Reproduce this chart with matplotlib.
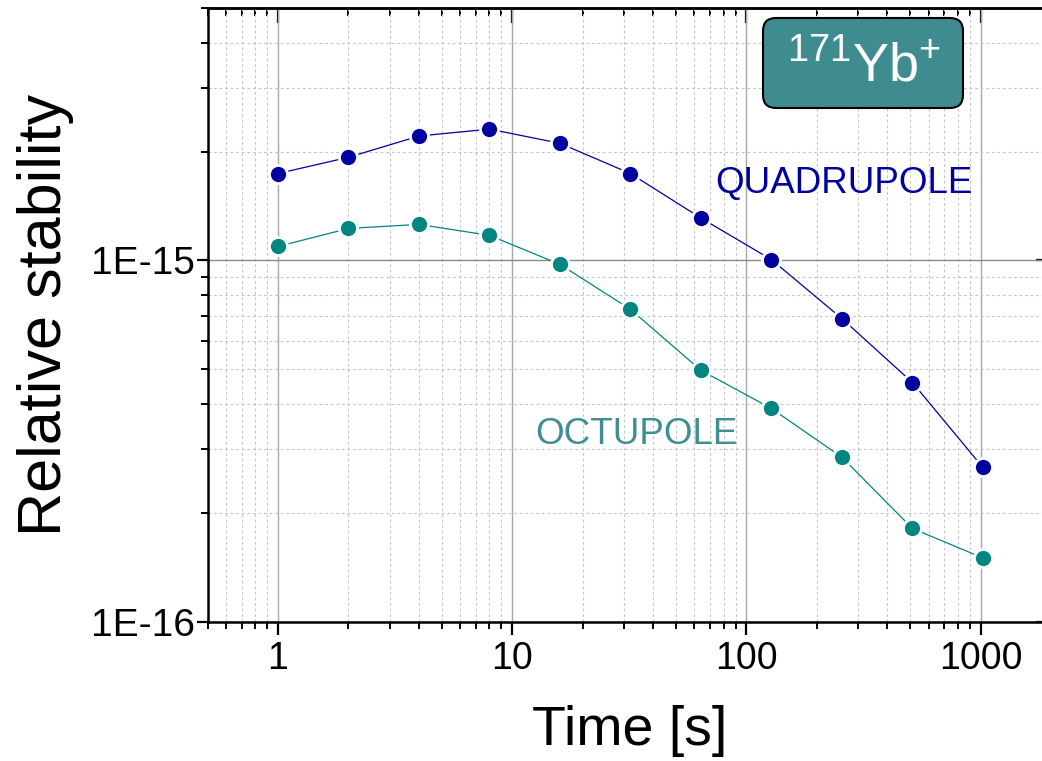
import matplotlib
matplotlib.use("Agg")
import matplotlib.pyplot as plt
from matplotlib.ticker import LogLocator, FixedLocator, FuncFormatter, NullFormatter
from matplotlib.patches import FancyBboxPatch

plt.rcParams['font.family'] = ['Liberation Sans', 'DejaVu Sans']
plt.rcParams['mathtext.fontset'] = 'custom'
plt.rcParams['mathtext.rm'] = 'Liberation Sans'

# Averaging time (s) and relative Allan deviation for the two Yb+ transitions
time_s = [1, 2, 4, 8, 16, 32, 64, 128, 256, 512, 1024]
quadrupole = [1.74e-15, 1.93e-15, 2.21e-15, 2.31e-15, 2.11e-15, 1.74e-15,
              1.31e-15, 1.005e-15, 6.9e-16, 4.59e-16, 2.67e-16]
octupole = [1.093e-15, 1.226e-15, 1.258e-15, 1.173e-15, 9.75e-16, 7.32e-16,
            4.96e-16, 3.89e-16, 2.85e-16, 1.81e-16, 1.50e-16]

x_ticks = [1, 10, 100, 1000]
x_tick_labels = ["1", "10", "100", "1000"]
y_ticks = [1e-16, 1e-15]
y_tick_labels = ["1E-16", "1E-15"]

quad_color = '#0000A0'
oct_color = '#008580'
label_oct_color = '#3E8E92'
box_color = '#3E8C90'

fig = plt.figure(figsize=(10.42, 7.61), dpi=100)
W, H = 1042, 761
ax = fig.add_axes([207.5 / W, 1 - 621.5 / H, (1051 - 207.5) / W, (621.5 - 8) / H])
ax.set_xscale('log')
ax.set_yscale('log')
ax.set_xlim(0.5, 2000)
ax.set_ylim(1e-16, 5e-15)

# ticks and grid
ax.xaxis.set_minor_locator(LogLocator(base=10, subs=range(2, 10), numticks=20))
ax.yaxis.set_minor_locator(LogLocator(base=10, subs=range(2, 10), numticks=20))
ax.xaxis.set_major_locator(FixedLocator(x_ticks))
ax.yaxis.set_major_locator(FixedLocator(y_ticks))
ax.xaxis.set_major_formatter(FuncFormatter(lambda v, p: x_tick_labels[x_ticks.index(v)] if v in x_ticks else ""))
ax.yaxis.set_major_formatter(FuncFormatter(lambda v, p: y_tick_labels[y_ticks.index(v)] if v in y_ticks else ""))
ax.xaxis.set_minor_formatter(NullFormatter())
ax.yaxis.set_minor_formatter(NullFormatter())

ax.grid(which='minor', color='#c4c4c4', linestyle=(0, (2.5, 2.5)), linewidth=0.8)
ax.grid(which='major', axis='x', color='#a8a8a8', linestyle='-', linewidth=1.0)
ax.grid(which='major', axis='y', color='#8a8a8a', linestyle='-', linewidth=1.0)
ax.set_axisbelow(True)

for side in ['left', 'bottom', 'top', 'right']:
    ax.spines[side].set_linewidth(1.8)

ax.tick_params(axis='x', which='major', direction='out', length=9, width=1.6,
               labelsize=27, pad=5, top=False)
ax.tick_params(axis='x', which='minor', direction='out', length=5, width=1.4, top=False)
ax.tick_params(axis='y', which='major', direction='out', length=8, width=1.6,
               labelsize=28, pad=1, right=False)
ax.tick_params(axis='y', which='minor', direction='out', length=5, width=1.4, right=False)

# mirrored ticks pointing inward on top and right
sec_x = ax.secondary_xaxis('top')
sec_x.xaxis.set_major_locator(FixedLocator(x_ticks))
sec_x.xaxis.set_minor_locator(LogLocator(base=10, subs=range(2, 10), numticks=20))
sec_x.xaxis.set_major_formatter(NullFormatter())
sec_x.xaxis.set_minor_formatter(NullFormatter())
sec_x.tick_params(which='major', direction='in', length=11, width=1.6)
sec_x.tick_params(which='minor', direction='in', length=6, width=1.4)
sec_x.spines['top'].set_linewidth(1.8)

sec_y = ax.secondary_yaxis('right')
sec_y.yaxis.set_major_locator(FixedLocator(y_ticks))
sec_y.yaxis.set_minor_locator(LogLocator(base=10, subs=range(2, 10), numticks=20))
sec_y.yaxis.set_major_formatter(NullFormatter())
sec_y.yaxis.set_minor_formatter(NullFormatter())
sec_y.tick_params(which='major', direction='in', length=11, width=1.6)
sec_y.tick_params(which='minor', direction='in', length=6, width=1.4)

ax.plot(time_s, quadrupole, '-o', color=quad_color, linewidth=0.9, markersize=13,
        markerfacecolor=quad_color, markeredgecolor='white', markeredgewidth=2, zorder=3)
ax.plot(time_s, octupole, '-o', color=oct_color, linewidth=0.9, markersize=13,
        markerfacecolor=oct_color, markeredgecolor='white', markeredgewidth=2, zorder=3)

ax.text(73.8, 1.54e-15, "QUADRUPOLE", color=quad_color, fontsize=26.5,
        ha='left', va='baseline')
ax.text(12.5, 3.11e-16, "OCTUPOLE", color=label_oct_color, fontsize=26.5,
        ha='left', va='baseline')

ax.set_xlabel("Time [s]", fontsize=40, labelpad=20)
ax.set_ylabel("Relative stability", fontsize=44, labelpad=12)

# ion label box
box = FancyBboxPatch((7.63, 6.53), 2.0, 0.9,
                     boxstyle='round,pad=0,rounding_size=0.13',
                     transform=fig.dpi_scale_trans, facecolor=box_color,
                     edgecolor='black', linewidth=1.5, zorder=5)
fig.patches.append(box)
fig.text(8.64 / 10.42, 1 - 81 / 761, r'$\mathregular{^{171}Yb^{+}}$', color='white',
         fontsize=39, ha='center', va='baseline', zorder=6)

fig.savefig("out.png", dpi=100)
